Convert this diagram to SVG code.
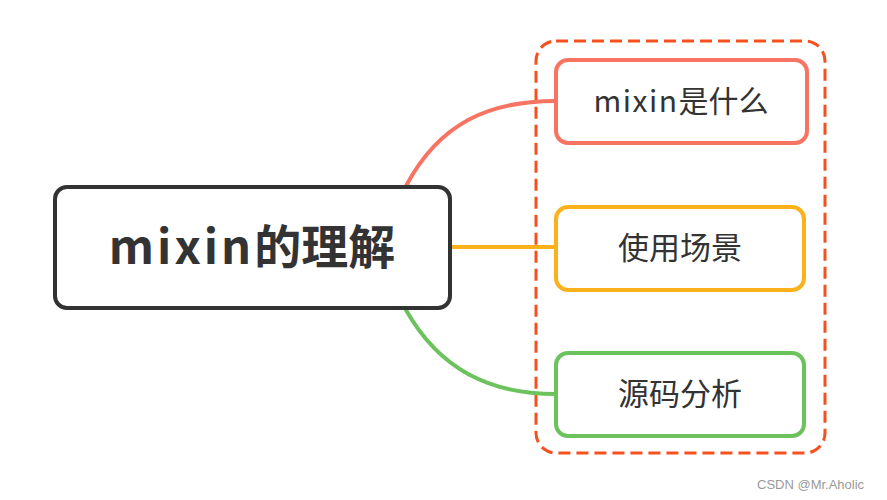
<svg xmlns="http://www.w3.org/2000/svg" width="887" height="500" viewBox="0 0 887 500">
<style>
.t{font-family:"Noto Sans CJK SC","Noto Sans",sans-serif;fill:#333;text-anchor:middle}
.c{fill:none;stroke-width:4;stroke-linecap:round}
</style>
<rect width="887" height="500" fill="#fff"/>
<g id="group">
<rect x="536" y="41" width="289" height="412" rx="20" fill="none" stroke="#f4511e" stroke-width="3" stroke-dasharray="12,6"/>
</g>
<g id="connectors">
<path class="c" d="M406,186 C440,122 490,101 556,101" stroke="#f87462"/>
<path class="c" d="M452,247 L556,247" stroke="#fbb11c"/>
<path class="c" d="M406,310 C440,370 490,394 556,394" stroke="#6cc25c"/>
</g>
<g id="root">
<rect x="55" y="187" width="395" height="121" rx="12" fill="#fff" stroke="#333" stroke-width="4"/>
<text class="t" x="252" y="264" font-size="47" font-weight="bold"><tspan letter-spacing="3">mixin</tspan>的理解</text>
</g>
<g id="n1">
<rect x="556" y="60" width="251" height="83" rx="12" fill="#fff" stroke="#f87462" stroke-width="4"/>
<text class="t" x="681" y="112" font-size="30"><tspan letter-spacing="1.5">mixin</tspan>是什么</text>
</g>
<g id="n2">
<rect x="556" y="207" width="248" height="83" rx="12" fill="#fff" stroke="#fbb11c" stroke-width="4"/>
<text class="t" x="680" y="259" font-size="31">使用场景</text>
</g>
<g id="n3">
<rect x="556" y="353" width="248" height="83" rx="12" fill="#fff" stroke="#6cc25c" stroke-width="4"/>
<text class="t" x="680" y="405" font-size="31">源码分析</text>
</g>
<text x="757" y="489" font-family="Liberation Sans,sans-serif" font-size="13" fill="#999">CSDN @Mr.Aholic</text>
</svg>
